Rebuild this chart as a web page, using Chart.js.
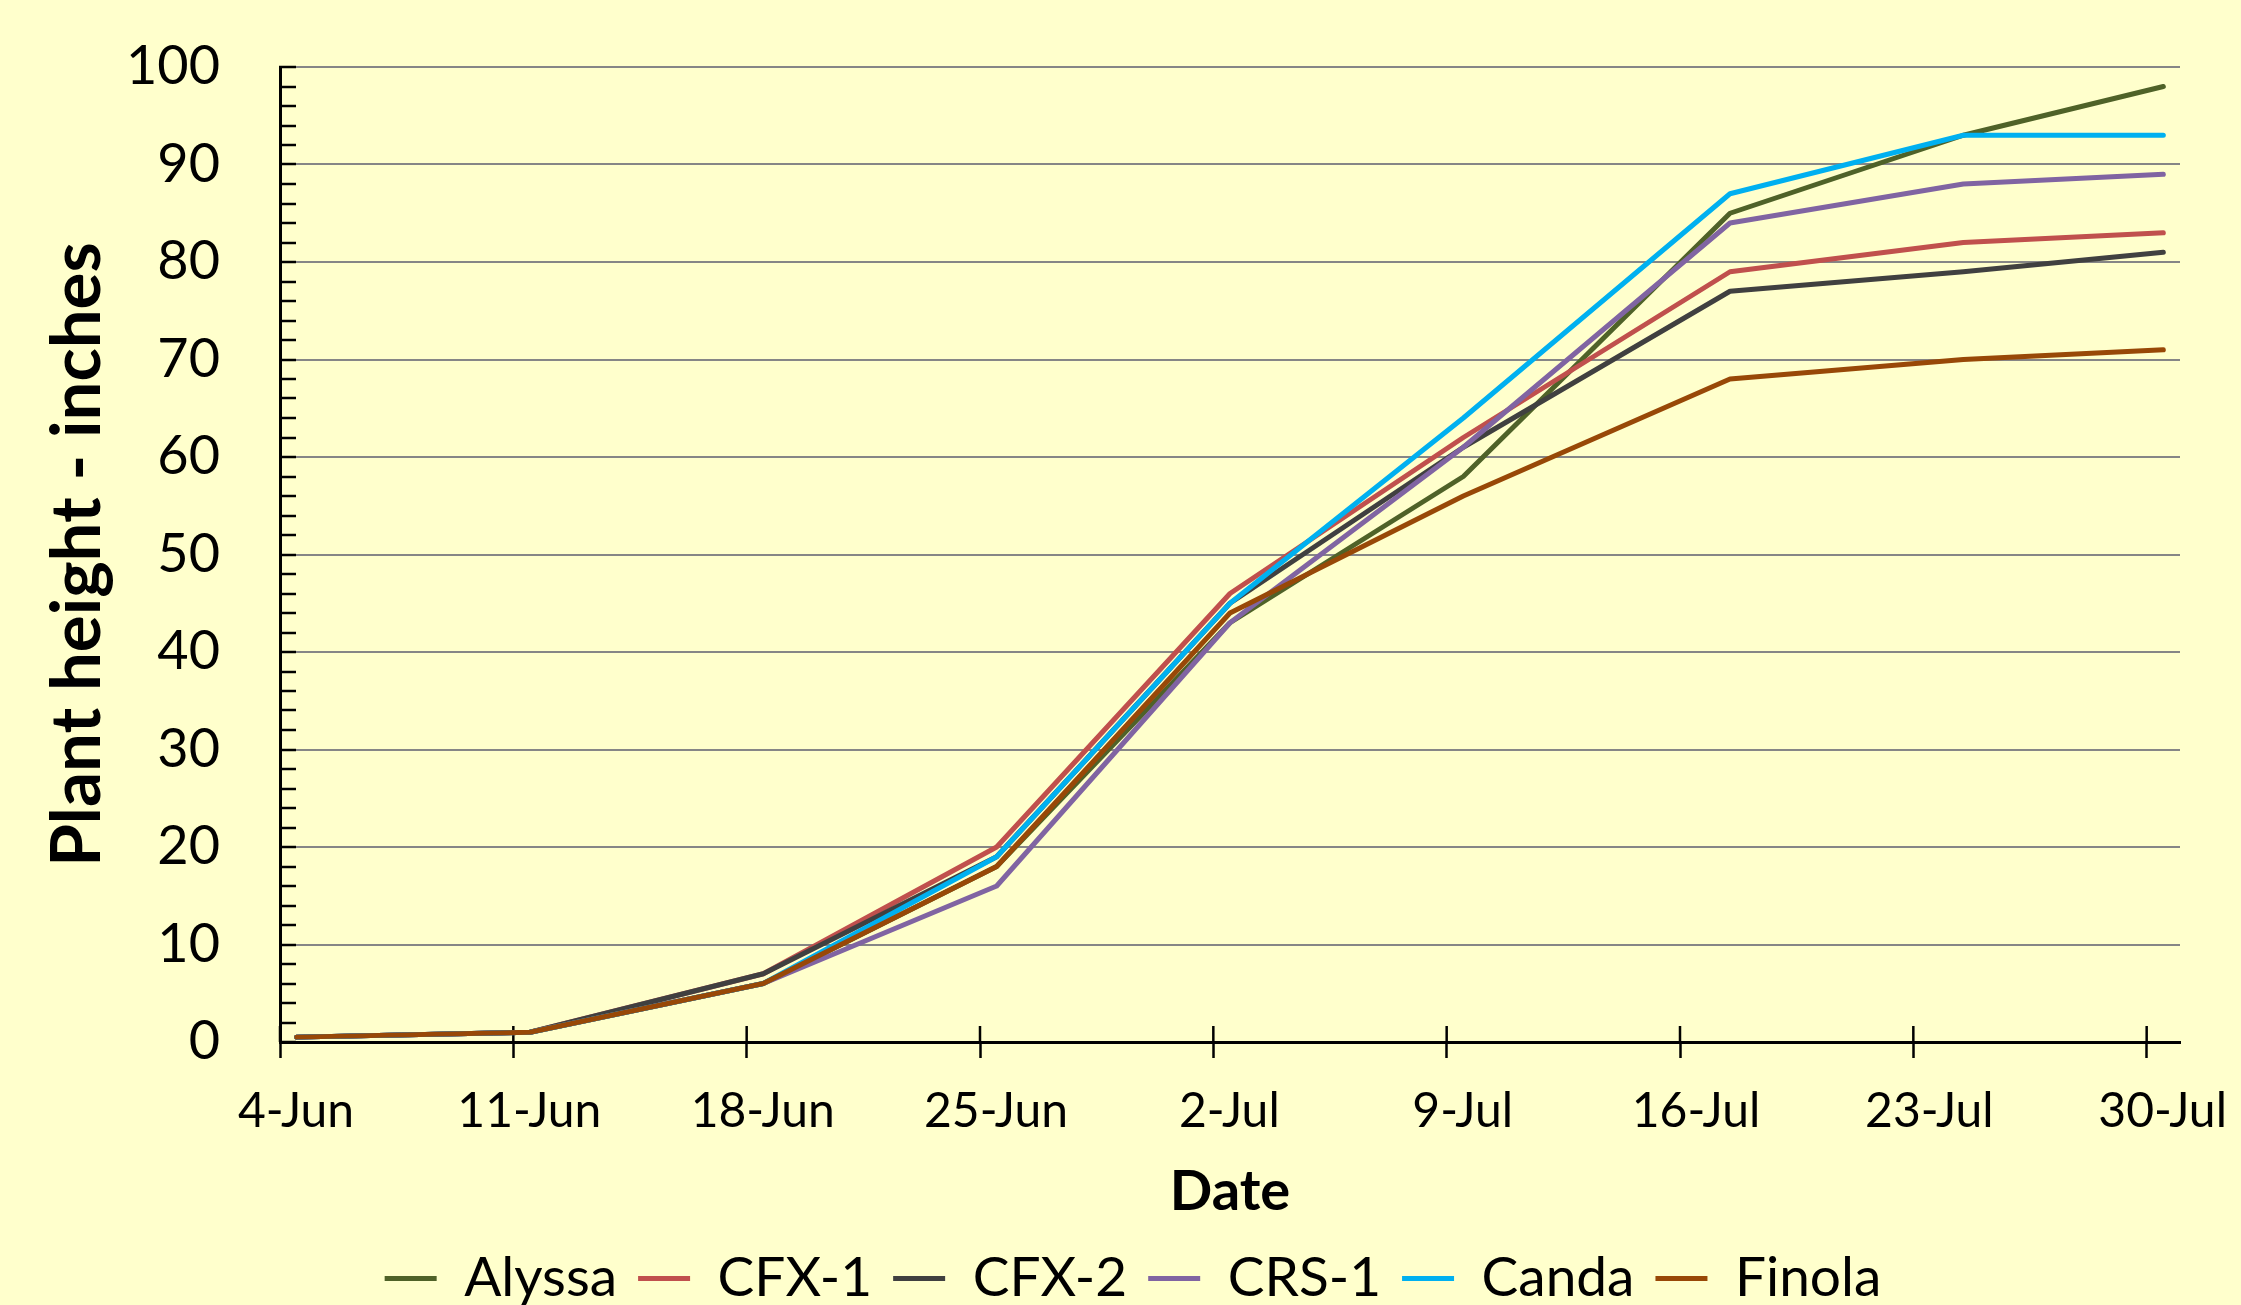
<!DOCTYPE html>
<html>
<head>
<meta charset="utf-8">
<script src="https://cdn.jsdelivr.net/npm/chart.js@4"></script>
<style>
  html, body { margin: 0; padding: 0; overflow: hidden; background: #FFFFCC; }
  #wrap { width: 2241px; height: 1305px; overflow: hidden; background: #FFFFCC; }
</style>
</head>
<body>
<div id="wrap"><canvas id="canvas" width="2241" height="1320"></canvas></div>
<script>
// Days since 4-Jun for each measurement
const sampleDays = [0, 7, 14, 21, 28, 35, 43, 50, 56];

// Plant height (inches) per variety
const alyssa = [0.5, 1, 6, 18, 43, 58, 85, 93, 98];
const cfx1   = [0.5, 1, 7, 20, 46, 62, 79, 82, 83];
const cfx2   = [0.5, 1, 7, 19, 45, 61, 77, 79, 81];
const crs1   = [0.5, 1, 6, 16, 43, 61, 84, 88, 89];
const canda  = [0.5, 1, 6, 19, 45, 64, 87, 93, 93];
const finola = [0.5, 1, 6, 18, 44, 56, 68, 70, 71];

const seriesNames  = ["Alyssa", "CFX-1", "CFX-2", "CRS-1", "Canda", "Finola"];
const seriesValues = [alyssa, cfx1, cfx2, crs1, canda, finola];
const seriesColors = ["#4F6228", "#C0504D", "#404040", "#8064A2", "#00B0F0", "#984807"];

// x axis ticks (days since 4-Jun) and their labels
const tickDays   = [0, 7, 14, 21, 28, 35, 42, 49, 56];
const tickLabels = ["4-Jun", "11-Jun", "18-Jun", "25-Jun", "2-Jul", "9-Jul", "16-Jul", "23-Jul", "30-Jul"];

const DAY_CENTRE = 0.5;  // Excel date axis puts each point in the middle of its day
const X_MAX = 57;        // axis runs to the end of 30-Jul

Chart.defaults.font.family = "Lato, 'Open Sans', sans-serif";
Chart.defaults.color = "#000";

// tick marks above the x axis (chart.js only draws them on one side)
const xTickMarksAbove = {
    id: "xTickMarksAbove",
    beforeDatasetsDraw(chart) {
        const xs = chart.scales.x;
        const ctx = chart.ctx;
        const y0 = chart.chartArea.bottom;
        ctx.save();
        ctx.strokeStyle = "#000";
        ctx.lineWidth = 2.5;
        xs.ticks.forEach(t => {
            const px = xs.getPixelForValue(t.value);
            ctx.beginPath();
            ctx.moveTo(px, y0 - 16);
            ctx.lineTo(px, y0);
            ctx.stroke();
        });
        ctx.restore();
    }
};

const datasets = seriesNames.map((name, i) => ({
    label: name,
    data: sampleDays.map((d, j) => ({ x: d + DAY_CENTRE, y: seriesValues[i][j] })),
    borderColor: seriesColors[i],
    backgroundColor: seriesColors[i],
    borderWidth: 5,
    borderJoinStyle: "round",
    borderCapStyle: "round",
    pointRadius: 0,
    tension: 0,
    order: seriesNames.length - i  // later series drawn on top, like Excel
}));

const ctx = document.getElementById("canvas").getContext("2d");
new Chart(ctx, {
    type: "line",
    data: { datasets: datasets },
    plugins: [xTickMarksAbove],
    options: {
        responsive: false,
        animation: false,
        devicePixelRatio: 1,
        layout: { padding: { left: 86, right: 61, top: 67, bottom: 4 } },
        plugins: {
            tooltip: { enabled: false },
            legend: {
                position: "bottom",
                labels: {
                    usePointStyle: true,
                    pointStyle: "line",
                    pointStyleWidth: 52,
                    padding: 21,
                    font: { size: 55 },
                    color: "#000",
                    sort: (a, b) => a.datasetIndex - b.datasetIndex
                }
            }
        },
        scales: {
            x: {
                type: "linear",
                min: 0,
                max: X_MAX,
                afterBuildTicks: s => { s.ticks = tickDays.map(v => ({ value: v })); },
                afterFit: s => { s.height = 188; },
                ticks: {
                    autoSkip: false,
                    maxRotation: 0,
                    padding: 25,
                    labelOffset: 16,
                    font: { size: 48 },
                    color: "#000",
                    callback: v => {
                        const k = tickDays.indexOf(v);
                        return k >= 0 ? tickLabels[k] : "";
                    }
                },
                grid: {
                    drawOnChartArea: false,
                    drawTicks: true,
                    tickLength: 16,
                    tickColor: "#000",
                    tickWidth: 2.5
                },
                border: { display: true, color: "#000", width: 3 },
                title: {
                    display: true,
                    text: "Date",
                    font: { size: 56, weight: "bold" },
                    color: "#000",
                    padding: { top: 0, bottom: 4 }
                }
            },
            y: {
                min: 0,
                max: 100,
                afterFit: s => {
                    s.width = 194;
                    // the big label padding should not push the plot down
                    s.paddingTop = 0;
                    s.paddingBottom = 0;
                },
                ticks: {
                    stepSize: 2,
                    autoSkip: false,
                    padding: 76,
                    font: { size: 54 },
                    color: "#000",
                    callback: v => (v % 10 === 0 ? String(v) : "")
                },
                grid: {
                    color: c => (c.tick && c.tick.value % 10 === 0 ? "#868686" : "rgba(0,0,0,0)"),
                    lineWidth: 2,
                    tickLength: -16,
                    tickColor: "#000",
                    tickWidth: 2.5
                },
                border: { display: true, color: "#000", width: 3 },
                title: {
                    display: true,
                    text: "Plant height - inches",
                    font: { size: 69, weight: "bold" },
                    color: "#000",
                    padding: { top: -50, bottom: 0 }
                }
            }
        }
    }
});
</script>
</body>
</html>
